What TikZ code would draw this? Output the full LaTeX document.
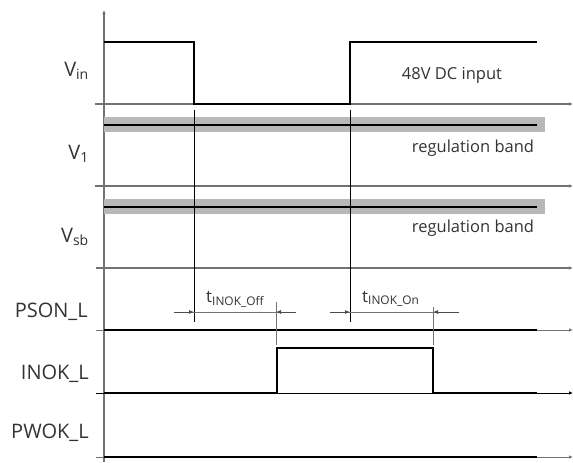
\documentclass[tikz,border=0pt]{standalone}
\usepackage{fontspec}
\setmainfont{Open Sans}
\usetikzlibrary{arrows.meta}
\begin{document}
\begin{tikzpicture}[x=1pt,y=-1pt,
  sig/.style={line width=2.4pt,black},
  axisline/.style={line width=1.2pt,black!55},
  thinax/.style={line width=0.8pt,black!55},
  marker/.style={line width=0.8pt,black},
  band/.style={fill=black!28,draw=none},
  lbl/.style={font=\fontsize{20}{24}\selectfont,text=black!80,anchor=base east,inner sep=0pt},
  note/.style={font=\fontsize{16.5}{19}\selectfont,text=black!80,anchor=base,inner sep=0pt},
  tl/.style={font=\fontsize{17}{20}\selectfont,text=black!80,anchor=base west,inner sep=0pt},
  dimarrow/.style={line width=0.8pt,black!70,-{Latex[length=5pt,width=4pt]}},
  tip/.style={-{Latex[length=4pt,width=3.5pt]}}
]
\useasboundingbox (0,0) rectangle (573,463);
% vertical axis
\draw[axisline,tip] (104,462) -- (104,10);
% horizontal axes
\draw[axisline,tip] (95,104) -- (573,104);
\draw[axisline,tip] (95,186) -- (573,186);
\draw[axisline,tip] (96,268) -- (573,268);
\draw[thinax,tip] (96,330) -- (573,330);
\draw[marker,tip] (96,393) -- (573,393);
\draw[thinax,tip] (96,457) -- (573,457);
% regulation bands
\fill[band] (104,117) rectangle (545,132);
\fill[band] (104,199) rectangle (545,214);
% signals
\draw[sig] (104,42) -- (194,42) -- (194,104) -- (350,104) -- (350,42) -- (537,42);
\draw[sig] (104,125) -- (537,125);
\draw[sig] (104,207) -- (537,207);
\draw[sig] (104,330) -- (537,330);
\draw[sig] (104,393) -- (277,393) -- (277,348) -- (433,348) -- (433,393) -- (537,393);
\draw[sig] (104,457) -- (537,457);
% vertical markers
\draw[marker] (194,110) -- (194,322);
\draw[marker] (350,110) -- (350,322);
\draw[thinax] (276,302) -- (276,345);
\draw[thinax] (433,307) -- (433,345);
% dimension lines
\draw[thinax] (174,312) -- (296,312);
\draw[dimarrow] (174,312) -- (194,312);
\draw[dimarrow] (296,312) -- (276,312);
\draw[thinax] (330,312) -- (459,312);
\draw[dimarrow] (330,312) -- (350,312);
\draw[dimarrow] (459,312) -- (433,312);
% labels
\node[lbl] (vin) at (89,76) {V\textsubscript{in}};
\node[lbl] (v1) at (89,159) {V\textsubscript{1}};
\node[lbl] (vsb) at (89,242) {V\textsubscript{sb}};
\node[lbl] (pson) at (88,317) {PSON\_L};
\node[lbl] (inok) at (89,379) {INOK\_L};
\node[lbl] (pwok) at (89,438) {PWOK\_L};
\node[note] (in48) at (452,79) {48V DC input};
\node[note] (rb1) at (473,152) {regulation band};
\node[note] (rb2) at (473,232) {regulation band};
\node[tl] (toff) at (206,302) {t\textsubscript{INOK\_Off}};
\node[tl] (ton) at (362,302) {t\textsubscript{INOK\_On}};
\end{tikzpicture}
\end{document}
